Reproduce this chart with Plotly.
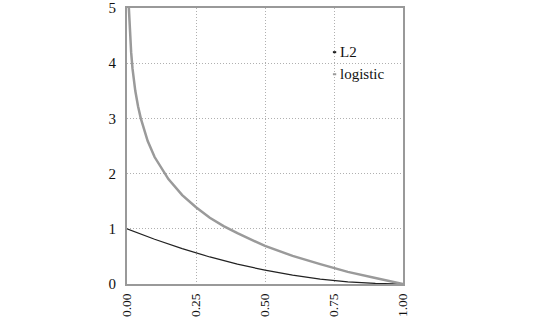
import plotly.graph_objects as go

# Values
x_l2 = [0.0, 0.1, 0.2, 0.25, 0.3, 0.4, 0.5, 0.6, 0.7, 0.8, 0.9, 1.0]
y_l2 = [1.0, 0.81, 0.64, 0.56, 0.49, 0.36, 0.25, 0.16, 0.09, 0.04, 0.01, 0.0]

x_log = [0.0067, 0.01, 0.015, 0.02, 0.03, 0.04, 0.05, 0.075, 0.1, 0.15, 0.2, 0.25,
         0.3, 0.35, 0.4, 0.5, 0.6, 0.7, 0.8, 0.9, 1.0]
y_log = [5.0, 4.6, 4.2, 3.9, 3.5, 3.22, 3.0, 2.59, 2.3, 1.9, 1.61, 1.39,
         1.2, 1.05, 0.92, 0.69, 0.51, 0.36, 0.22, 0.11, 0.0]

x_ticks = [0, 0.25, 0.5, 0.75, 1.0]
x_tick_labels = ["0.00", "0.25", "0.50", "0.75", "1.00"]
y_ticks = [0, 1, 2, 3, 4, 5]
legend_names = ["L2", "logistic"]
legend_colors = ["#222222", "#9a9a9a"]

fig = go.Figure()
fig.add_trace(go.Scatter(x=x_l2, y=y_l2, mode="lines", name="L2",
                         line=dict(color="#222222", width=1.2)))
fig.add_trace(go.Scatter(x=x_log, y=y_log, mode="lines", name="logistic",
                         line=dict(color="#9a9a9a", width=2.5)))

font = dict(family="Liberation Serif", size=15, color="#111")
xfont = dict(family="Liberation Serif", size=13.5, color="#111")

# manual legend: short dash + text
leg_y = [4.2, 3.8]
for name, col, yy in zip(legend_names, legend_colors, leg_y):
    fig.add_shape(type="line", xref="x", yref="y", x0=0.746, x1=0.758, y0=yy, y1=yy,
                  line=dict(color=col, width=2))
    fig.add_annotation(x=0.766, y=yy, xref="x", yref="y", text=name, showarrow=False,
                       xanchor="left", yanchor="middle", font=font)

fig.update_layout(
    width=554, height=318,
    margin=dict(l=127, r=151, t=8, b=34),
    paper_bgcolor="white", plot_bgcolor="white",
    showlegend=False,
    font=font,
)
fig.update_xaxes(range=[0, 1], tickvals=x_ticks, ticktext=x_tick_labels, tickangle=-90,
                 showgrid=True, gridcolor="#b0b0b0", griddash="1px,2px", gridwidth=1,
                 showline=True, linecolor="#999", linewidth=2, mirror=True,
                 zeroline=False, ticks="", ticklabelstandoff=2, tickfont=xfont,
                 automargin=False)
fig.update_yaxes(range=[0, 5], tickvals=y_ticks,
                 showgrid=True, gridcolor="#b0b0b0", griddash="1px,2px", gridwidth=1,
                 showline=True, linecolor="#999", linewidth=2, mirror=True,
                 zeroline=False, ticks="", ticklabelstandoff=6, tickfont=font,
                 automargin=False)

fig.write_html("out.html")
